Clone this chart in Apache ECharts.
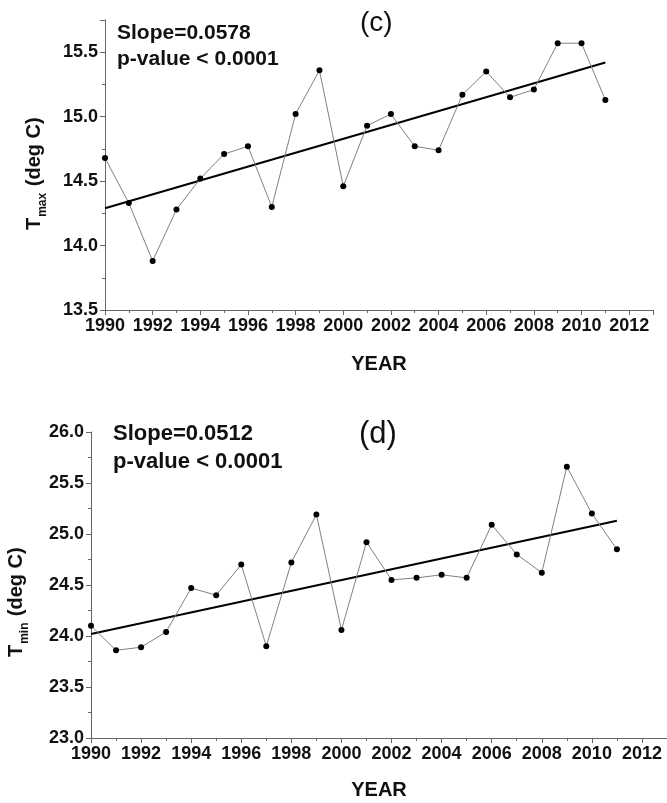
<!DOCTYPE html>
<html>
<head>
<meta charset="utf-8">
<script src="https://cdn.jsdelivr.net/npm/echarts@6/dist/echarts.min.js"></script>
<style>
  html, body { margin: 0; padding: 0; background: #fff; }
  #chart { width: 667px; height: 803px; }
</style>
</head>
<body>
<div id="chart"></div>
<script>
// Annual mean temperatures, 1990-2011
const years = [1990, 1991, 1992, 1993, 1994, 1995, 1996, 1997, 1998, 1999, 2000,
               2001, 2002, 2003, 2004, 2005, 2006, 2007, 2008, 2009, 2010, 2011];
const tmax = [14.68, 14.33, 13.88, 14.28, 14.52, 14.71, 14.77, 14.30, 15.02, 15.36, 14.46,
              14.93, 15.02, 14.77, 14.74, 15.17, 15.35, 15.15, 15.21, 15.57, 15.57, 15.13];
const tmin = [24.10, 23.86, 23.89, 24.04, 24.47, 24.40, 24.70, 23.90, 24.72, 25.19, 24.06,
              24.92, 24.55, 24.57, 24.60, 24.57, 25.09, 24.80, 24.62, 25.66, 25.20, 24.85];

// Fitted trend lines: start and end values over the record
const trendYears = [1990, 2011];
const tmaxTrend = [14.29, 15.42];
const tminTrend = [24.02, 25.13];

const tmaxStats = ['Slope=0.0578', 'p-value < 0.0001'];
const tminStats = ['Slope=0.0512', 'p-value < 0.0001'];

const FONT = '"Liberation Sans", Arial, sans-serif';
const AXIS_COLOR = '#666';

function pairs(xs, ys) { return xs.map((x, i) => [x, ys[i]]); }

function xAxisFor(gridIndex, fontSize, nameGap) {
  return {
    type: 'value', gridIndex, min: 1990, max: 2013, interval: 2,
    name: 'YEAR', nameLocation: 'middle', nameGap,
    nameTextStyle: { fontFamily: FONT, fontWeight: 'bold', fontSize: 20, color: '#111' },
    axisLine: { show: true, onZero: false, lineStyle: { color: AXIS_COLOR, width: 1 } },
    axisTick: { show: true, length: 5, lineStyle: { color: AXIS_COLOR } },
    minorTick: { show: true, splitNumber: 2, length: 3, lineStyle: { color: AXIS_COLOR } },
    axisLabel: { fontFamily: FONT, fontWeight: 'bold', fontSize, color: '#111', margin: 7,
                 showMaxLabel: false, formatter: v => String(v) },
    splitLine: { show: false }
  };
}

function yAxisFor(gridIndex, min, max, fontSize, showMax) {
  return {
    type: 'value', gridIndex, min, max, interval: 0.5,
    axisLine: { show: true, onZero: false, lineStyle: { color: AXIS_COLOR, width: 1 } },
    axisTick: { show: true, length: 5, lineStyle: { color: AXIS_COLOR } },
    minorTick: { show: true, splitNumber: 2, length: 3, lineStyle: { color: AXIS_COLOR } },
    axisLabel: { fontFamily: FONT, fontWeight: 'bold', fontSize, color: '#111', margin: 7,
                 showMaxLabel: showMax, formatter: v => v.toFixed(1) },
    splitLine: { show: false }
  };
}

function dataSeries(idx, values) {
  return {
    type: 'line', xAxisIndex: idx, yAxisIndex: idx,
    data: pairs(years, values),
    symbol: 'circle', symbolSize: 6, showSymbol: true,
    lineStyle: { color: '#808080', width: 1 },
    itemStyle: { color: '#000' },
    silent: true, z: 3
  };
}

function trendSeries(idx, values) {
  return {
    type: 'line', xAxisIndex: idx, yAxisIndex: idx,
    data: pairs(trendYears, values),
    symbol: 'none',
    lineStyle: { color: '#000', width: 2 },
    silent: true, z: 2
  };
}

// Rotated y-axis title with a subscript, drawn as three pieces along the axis
function yTitle(x, yBottom, sub, subWidth) {
  const main = { fontFamily: FONT, fontWeight: 'bold', fontSize: 20, fill: '#111' };
  const tW = 12.2;
  return [
    { type: 'text', x: x, y: yBottom, rotation: Math.PI / 2,
      style: Object.assign({ text: 'T', textAlign: 'left', textVerticalAlign: 'bottom' }, main) },
    { type: 'text', x: x + 5, y: yBottom - tW - 1, rotation: Math.PI / 2,
      style: { text: sub, fontFamily: FONT, fontWeight: 'bold', fontSize: 12, fill: '#111',
               textAlign: 'left', textVerticalAlign: 'bottom' } },
    { type: 'text', x: x, y: yBottom - tW - 2 - subWidth, rotation: Math.PI / 2,
      style: Object.assign({ text: ' (deg C)', textAlign: 'left', textVerticalAlign: 'bottom' }, main) }
  ];
}

function statText(x, y, lines, size, step) {
  return lines.map((t, i) => ({
    type: 'text', x: x, y: y + i * step,
    style: { text: t, fontFamily: FONT, fontWeight: 'bold', fontSize: size, fill: '#111',
             textAlign: 'left', textVerticalAlign: 'top' }
  }));
}

const chart = echarts.init(document.getElementById('chart'), null, { renderer: 'canvas' });
chart.setOption({
  animation: false,
  backgroundColor: '#fff',
  grid: [
    { left: 105, top: 20, width: 548, height: 290 },
    { left: 91, top: 432, width: 576, height: 306 }
  ],
  xAxis: [xAxisFor(0, 18, 44), xAxisFor(1, 18, 42)],
  yAxis: [yAxisFor(0, 13.5, 15.75, 18, false), yAxisFor(1, 23, 26, 18, true)],
  series: [
    trendSeries(0, tmaxTrend), dataSeries(0, tmax),
    trendSeries(1, tminTrend), dataSeries(1, tmin)
  ],
  graphic: [
    ...yTitle(44, 230, 'max', 24),
    ...yTitle(26, 657, 'min', 21),
    ...statText(117, 23, tmaxStats, 21, 26),
    ...statText(113, 423, tminStats, 22, 28),
    { type: 'text', x: 360, y: 9, style: { text: '(c)', fontFamily: FONT, fontSize: 28, fill: '#111',
      textAlign: 'left', textVerticalAlign: 'top' } },
    { type: 'text', x: 359, y: 419, style: { text: '(d)', fontFamily: FONT, fontSize: 31, fill: '#111',
      textAlign: 'left', textVerticalAlign: 'top' } }
  ]
});
</script>
</body>
</html>
